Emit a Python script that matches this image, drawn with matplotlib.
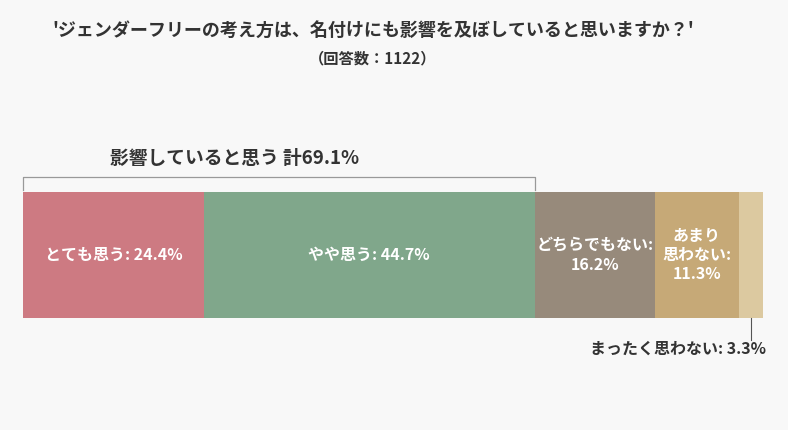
import matplotlib
matplotlib.use('Agg')
import matplotlib.pyplot as plt

plt.rcParams['font.family'] = ['Noto Sans CJK JP', 'DejaVu Sans']

# ------------------ DATA ------------------
labels = ['とても思う', 'やや思う', 'どちらでもない', 'あまり\n思わない', 'まったく思わない']
values = [24.4, 44.7, 16.2, 11.3, 3.3]
colors = ['#CD7A82', '#80A78B', '#978A7B', '#C6A977', '#DCC9A0']
title = "'ジェンダーフリーの考え方は、名付けにも影響を及ぼしていると思いますか？'"
subtitle = '（回答数：1122）'
bracket_text = '影響していると思う 計69.1%'
# ------------------------------------------

total = sum(values)
px = 740 / total  # pixels per percent

fig = plt.figure(figsize=(7.88, 4.30), dpi=100, facecolor='#F8F8F8')
ax = fig.add_axes([0, 0, 1, 1])
ax.set_facecolor('#F8F8F8')
ax.set_xlim(-23 / px, (788 - 23) / px)
ax.set_ylim(430, 0)
ax.axis('off')

left = 0
centers = []
for lab, v, c in zip(labels, values, colors):
    ax.barh(255, v, left=left, height=126, color=c, edgecolor='none')
    centers.append(left + v / 2)
    left += v

txt = dict(color='white', fontsize=11.5, fontweight='bold', ha='center', va='center')
ax.text(centers[0], 255, f'{labels[0]}: {values[0]}%', **txt)
ax.text(centers[1], 255, f'{labels[1]}: {values[1]}%', **txt)
ax.text(centers[2], 255, f'{labels[2]}:\n{values[2]}%', linespacing=1.3, **txt)
ax.text(centers[3], 255, f'{labels[3]}:\n{values[3]}%', linespacing=1.2, **txt)

# small segment label outside
ax.plot([centers[4], centers[4]], [318, 340], color='#555555', lw=0.8)
ax.text(766 / px - 23 / px, 349, f'{labels[4]}: {values[4]}%', ha='right', va='center',
        fontsize=11.5, fontweight='bold', color='#333333')

# bracket over first two segments
b = values[0] + values[1]
ax.plot([0, 0, b, b], [190, 177, 177, 190], color='#999999', lw=0.9)
ax.text(b / 2 - 6, 158, bracket_text, ha='center', va='center', fontsize=13.5,
        fontweight='bold', color='#333333')

ax.text(373 / px - 23 / px, 30, title, ha='center', va='center', fontsize=13,
        fontweight='bold', color='#333333')
ax.text(373 / px - 23 / px, 58, subtitle, ha='center', va='center', fontsize=11,
        fontweight='bold', color='#333333')

fig.savefig('out.png', dpi=100, facecolor=fig.get_facecolor())
